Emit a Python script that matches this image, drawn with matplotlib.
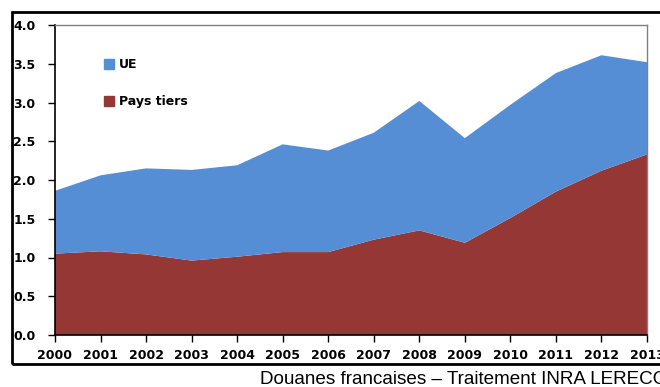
import matplotlib.pyplot as plt
from matplotlib.patches import Rectangle

years = list(range(2000, 2014))
pays_tiers = [1.05, 1.08, 1.04, 0.96, 1.01, 1.07, 1.07, 1.23, 1.35, 1.19, 1.51, 1.85, 2.12, 2.33]
total = [1.86, 2.06, 2.15, 2.13, 2.19, 2.46, 2.38, 2.61, 3.02, 2.54, 2.97, 3.38, 3.61, 3.52]
ue = [t - p for t, p in zip(total, pays_tiers)]
y_ticks = [0.0, 0.5, 1.0, 1.5, 2.0, 2.5, 3.0, 3.5, 4.0]

blue = "#558ED5"
red = "#953735"

W, H = 660, 387
fig = plt.figure(figsize=(W / 100, H / 100), dpi=100)
ax = fig.add_axes([55 / W, 1 - 335 / H, (647 - 55) / W, (335 - 25) / H])

ax.stackplot(years, pays_tiers, ue, colors=[red, blue], linewidth=0)
ax.set_xlim(2000, 2013)
ax.set_ylim(0, 4)
ax.set_xticks(years)
ax.set_xticklabels([str(y) for y in years])
ax.set_yticks(y_ticks)
ax.set_yticklabels([f"{v:.1f}" for v in y_ticks])
for lab in ax.get_xticklabels() + ax.get_yticklabels():
    lab.set_fontweight("bold")
    lab.set_fontsize(9)
ax.tick_params(axis="both", direction="out", length=5, width=1, color="black")
ax.tick_params(axis="x", pad=5)
ax.tick_params(axis="y", pad=9)
ax.spines["left"].set_color("black")
ax.spines["bottom"].set_color("black")
ax.spines["left"].set_linewidth(1.2)
ax.spines["bottom"].set_linewidth(1.2)
for s in ("top", "right"):
    ax.spines[s].set_color("#808080")
    ax.spines[s].set_linewidth(1.0)

# legend drawn as colored squares with bold labels
for ypix, col, txt in [(64, blue, "UE"), (101, red, "Pays tiers")]:
    fig.patches.append(Rectangle((104 / W, 1 - (ypix + 4.5) / H), 10 / W, 9 / H,
                                 transform=fig.transFigure, color=col))
    fig.text(119 / W, 1 - ypix / H, txt, fontsize=9, fontweight="bold",
             va="center", ha="left")

# outer frame
fig.patches.append(Rectangle((12 / W, 1 - 364 / H), 700 / W, (364 - 12) / H,
                             transform=fig.transFigure, fill=False,
                             edgecolor="black", linewidth=2))

fig.text(260 / W, 1 - 379 / H, "Douanes francaises \u2013 Traitement INRA LERECO",
         fontsize=13.6, family="Liberation Sans", va="center", ha="left")

fig.savefig("out.png", dpi=100)
